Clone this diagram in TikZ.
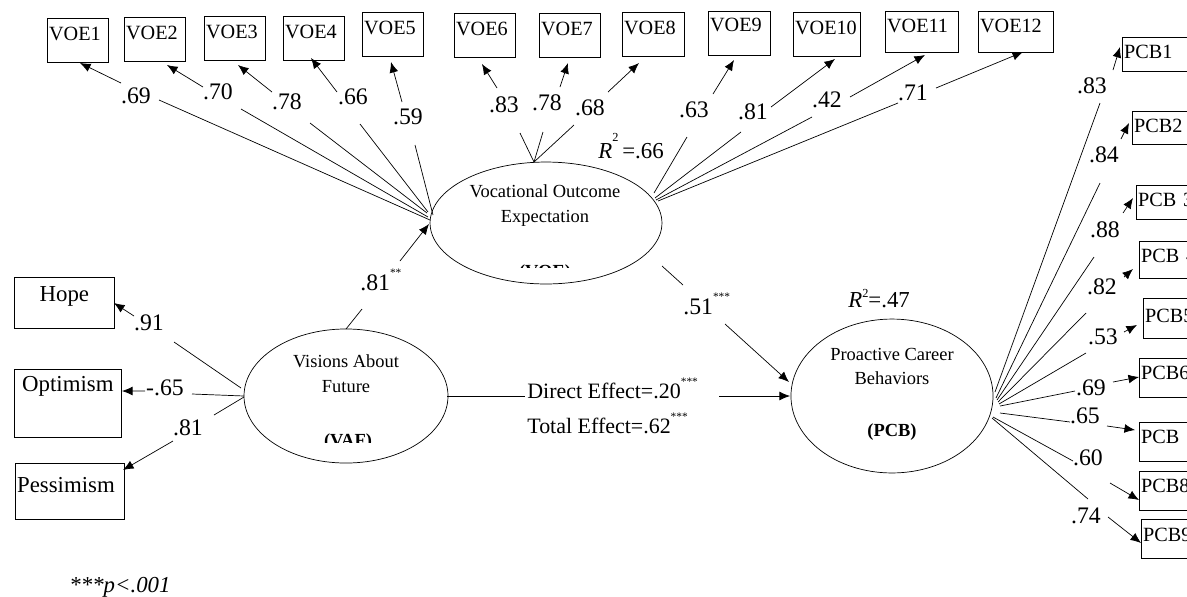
\documentclass[tikz,border=0pt]{standalone}
\usepackage{fontspec}
\setmainfont{Liberation Serif}
\usetikzlibrary{shapes,arrows.meta}
\pgfdeclarelayer{edgelayer}
\pgfdeclarelayer{nodelayer}
\pgfsetlayers{edgelayer,nodelayer,main}
\tikzset{line width=0.6pt}
\tikzstyle{none}=[inner sep=0pt]
\tikzstyle{obs}=[draw,anchor=north west,align=left,inner xsep=1pt,inner ysep=0pt,text width=33pt,text height=12.5pt,text depth=12.5pt,font=\fontsize{11.5}{13}\selectfont]
\tikzstyle{pcbbox}=[obs,text width=40pt,text height=12pt,text depth=10.2pt]
\tikzstyle{indbox}=[obs,align=center,font=\fontsize{13}{15}\selectfont]
\tikzstyle{latent}=[draw,ellipse,inner sep=0pt]
\tikzstyle{etxt}=[inner sep=0pt,anchor=base,font=\fontsize{10.5}{12}\selectfont]
\tikzstyle{coef}=[inner sep=0pt,font=\fontsize{13.5}{15}\selectfont]
\tikzstyle{arr}=[-{Latex[length=6pt,width=5pt]}]
\newcommand{\sigmark}[1]{\raisebox{0.55em}{\fontsize{6.5}{7}\selectfont #1}}

\begin{document}
\begin{tikzpicture}[x=0.02cm,y=-0.02cm]
	\useasboundingbox (0,0) rectangle (1187,596);
	\begin{pgfonlayer}{nodelayer}
		% indicators of VOE
		\node [style=obs] (voe1) at (47,18) {VOE1};
		\node [style=obs] (voe2) at (124,17) {VOE2};
		\node [style=obs] (voe3) at (204,16) {VOE3};
		\node [style=obs] (voe4) at (283,16) {VOE4};
		\node [style=obs] (voe5) at (362,12) {VOE5};
		\node [style=obs] (voe6) at (454,13) {VOE6};
		\node [style=obs] (voe7) at (539,13) {VOE7};
		\node [style=obs] (voe8) at (622,12) {VOE8};
		\node [style=obs, text height=11.4pt, text depth=13.6pt] (voe9) at (708,11) {VOE9};
		\node [style=obs, text width=36.1pt] (voe10) at (793,12) {VOE10};
		\node [style=obs, text width=39.5pt, text height=12pt, text depth=11.4pt] (voe11) at (885,11) {VOE11};
		\node [style=obs, text width=40.7pt, text height=12pt, text depth=11.4pt] (voe12) at (978,11) {VOE12};
		% indicators of PCB
		\node [style=pcbbox, text depth=7.4pt] (pcb1) at (1122,37) {PCB1};
		\node [style=pcbbox, text depth=6.8pt] (pcb2) at (1132,111) {PCB2};
		\node [style=pcbbox, text depth=7.4pt] (pcb3) at (1136,185) {PCB 3};
		\node [style=pcbbox, text depth=9.1pt] (pcb4) at (1139,241) {PCB 4};
		\node [style=pcbbox, text height=13.7pt, text depth=9.1pt] (pcb5) at (1143,298) {PCB5};
		\node [style=pcbbox] (pcb6) at (1139,358) {PCB6};
		\node [style=pcbbox] (pcb7) at (1139,422) {PCB 7};
		\node [style=pcbbox] (pcb8) at (1139,471) {PCB8};
		\node [style=pcbbox, text height=12.5pt, text depth=9.7pt] (pcb9) at (1141,519) {PCB9};
		% indicators of VAF
		\node [style=indbox, text width=54.9pt, text height=13.7pt, text depth=15.4pt] (hope) at (14,277) {Hope};
		\node [style=indbox, text width=58.9pt, text height=12.5pt, text depth=26.2pt] (optim) at (14,369) {Optimism};
		\node [style=indbox, align=left, text width=60pt, text height=16.5pt, text depth=15.4pt] (pessim) at (15,463) {Pessimism};
		% latent variables
		\node [style=latent, minimum width=132pt, minimum height=69.4pt] (voe) at (546,223) {};
		\node [style=latent, minimum width=116.1pt, minimum height=76.3pt] (vaf) at (346,396) {};
		\node [style=latent, minimum width=115pt, minimum height=87.6pt] (pcb) at (892,396) {};
		\node [style=etxt] (voet1) at (545,197) {Vocational Outcome};
		\node [style=etxt] (voet2) at (545,222) {Expectation};
		\begin{scope}
			\clip (480,250) rectangle (610,267);
			\node [style=etxt] (voet3) at (545,277) {\textbf{(VOE)}};
		\end{scope}
		\node [style=etxt] (vaft1) at (346,367) {Visions About};
		\node [style=etxt] (vaft2) at (346,392) {Future};
		\begin{scope}
			\clip (290,425) rectangle (400,442);
			\node [style=etxt] (vaft3) at (348,446) {\textbf{(VAF)}};
		\end{scope}
		\node [style=etxt] (pcbt1) at (892,360) {Proactive Career};
		\node [style=etxt] (pcbt2) at (892,384) {Behaviors};
		\node [style=etxt] (pcbt3) at (892,436) {\textbf{(PCB)}};
		% coefficients
		\node [style=coef] (lv1) at (136,96) {.69};
		\node [style=coef] (lv2) at (218,92) {.70};
		\node [style=coef] (lv3) at (287,102) {.78};
		\node [style=coef] (lv4) at (353,97) {.66};
		\node [style=coef] (lv5) at (408,117) {.59};
		\node [style=coef] (lv6) at (504,105) {.83};
		\node [style=coef] (lv7) at (547,103) {.78};
		\node [style=coef] (lv8) at (590,108) {.68};
		\node [style=coef] (lv9) at (694,110) {.63};
		\node [style=coef] (lv10) at (753,112) {.81};
		\node [style=coef] (lv11) at (827,100) {.42};
		\node [style=coef] (lv12) at (913,93) {.71};
		\node [style=coef] (lh) at (149,323) {.91};
		\node [style=coef] (lo) at (165,388) {-.65};
		\node [style=coef] (lq) at (188,428) {.81};
		\node [style=coef] (lp1) at (1092,86) {.83};
		\node [style=coef] (lp2) at (1104,155) {.84};
		\node [style=coef] (lp3) at (1105,230) {.88};
		\node [style=coef] (lp4) at (1102,287) {.82};
		\node [style=coef] (lp5) at (1103,337) {.53};
		\node [style=coef] (lp6) at (1091,388) {.69};
		\node [style=coef] (lp7) at (1085,416) {.65};
		\node [style=coef] (lp8) at (1088,458) {.60};
		\node [style=coef] (lp9) at (1086,516) {.74};
		\node [style=coef, anchor=base west] (la) at (360,290) {.81\sigmark{**}};
		\node [style=coef, anchor=base west] (lb) at (683,314) {.51\sigmark{***}};
		\node [style=none, anchor=base west, font=\fontsize{12.5}{14}\selectfont] (direct) at (527,398) {Direct Effect=.20\sigmark{***}};
		\node [style=none, anchor=base west, font=\fontsize{12.5}{14}\selectfont] (total) at (527,433) {Total Effect=.62\sigmark{***}};
		\node [style=none, anchor=base west, font=\fontsize{13}{15}\selectfont] (r2voe) at (598,158) {\textit{R}\raisebox{9.5pt}{\fontsize{7}{8}\selectfont 2}\,=.66};
		\node [style=none, anchor=base west, font=\fontsize{13}{15}\selectfont] (r2pcb) at (848,307) {\textit{R}\raisebox{5.5pt}{\fontsize{7}{8}\selectfont 2}=.47};
		\node [style=none, anchor=base, font=\itshape\fontsize{13}{15}\selectfont] (note) at (120,592) {***p<.001};
		% connector ends
		\node [style=none] (v1s) at (430,220) {}; \node [style=none] (v1m) at (159,100) {}; \node [style=none] (v1n) at (121,83) {}; \node [style=none] (v1t) at (80,63) {};
		\node [style=none] (v2s) at (428,217) {}; \node [style=none] (v2m) at (241,109) {}; \node [style=none] (v2n) at (203,87) {}; \node [style=none] (v2t) at (167,65) {};
		\node [style=none] (v3s) at (427,213) {}; \node [style=none] (v3m) at (310,123) {}; \node [style=none] (v3n) at (272,92) {}; \node [style=none] (v3t) at (238,65) {};
		\node [style=none] (v4s) at (428,212) {}; \node [style=none] (v4m) at (360,124) {}; \node [style=none] (v4n) at (337,92) {}; \node [style=none] (v4t) at (311,58) {};
		\node [style=none] (v5s) at (433,215) {}; \node [style=none] (v5m) at (415,145) {}; \node [style=none] (v5n) at (402,102) {}; \node [style=none] (v5t) at (391,62) {};
		\node [style=none] (v6s) at (534,162) {}; \node [style=none] (v6m) at (520,133) {}; \node [style=none] (v6n) at (497,88) {}; \node [style=none] (v6t) at (482,64) {};
		\node [style=none] (v7s) at (534,162) {}; \node [style=none] (v7m) at (543,132) {}; \node [style=none] (v7n) at (560,87) {}; \node [style=none] (v7t) at (568,63) {};
		\node [style=none] (v8s) at (534,162) {}; \node [style=none] (v8m) at (574,125) {}; \node [style=none] (v8n) at (608,92) {}; \node [style=none] (v8t) at (639,63) {};
		\node [style=none] (v9s) at (654,193) {}; \node [style=none] (v9m) at (687,137) {}; \node [style=none] (v9n) at (713,94) {}; \node [style=none] (v9t) at (734,60) {};
		\node [style=none] (v10s) at (655,198) {}; \node [style=none] (v10m) at (741,132) {}; \node [style=none] (v10n) at (771,107) {}; \node [style=none] (v10t) at (835,59) {};
		\node [style=none] (v11s) at (656,200) {}; \node [style=none] (v11m) at (812,117) {}; \node [style=none] (v11n) at (850,97) {}; \node [style=none] (v11t) at (925,55) {};
		\node [style=none] (v12s) at (658,201) {}; \node [style=none] (v12m) at (898,103) {}; \node [style=none] (v12n) at (936,88) {}; \node [style=none] (v12t) at (1023,52) {};
		\node [style=none] (as) at (346,329) {}; \node [style=none] (am) at (362,309) {}; \node [style=none] (an) at (400,261) {}; \node [style=none] (at) at (429,224) {};
		\node [style=none] (hs) at (241,388) {}; \node [style=none] (hm) at (174,342) {}; \node [style=none] (hn) at (134,316) {}; \node [style=none] (ht) at (114,303) {};
		\node [style=none] (os) at (244,396) {}; \node [style=none] (om) at (192,394) {}; \node [style=none] (on) at (145,391) {}; \node [style=none] (ot) at (122,391) {};
		\node [style=none] (qs) at (244,397) {}; \node [style=none] (qm) at (214,415) {}; \node [style=none] (qn) at (173,441) {}; \node [style=none] (qt) at (123,470) {};
		\node [style=none] (ds) at (447,396) {}; \node [style=none] (dm) at (525,396) {}; \node [style=none] (dn) at (719,396) {}; \node [style=none] (dt) at (790,396) {};
		\node [style=none] (bs) at (662,266) {}; \node [style=none] (bm) at (683,285) {}; \node [style=none] (bn) at (725,324) {}; \node [style=none] (bt) at (789,382) {};
		\node [style=none] (p1s) at (995,392) {}; \node [style=none] (p1m) at (1100,103) {}; \node [style=none] (p1n) at (1113,70) {}; \node [style=none] (p1t) at (1120,47) {};
		\node [style=none] (p2s) at (996,398) {}; \node [style=none] (p2m) at (1100,183) {}; \node [style=none] (p2n) at (1121,139) {}; \node [style=none] (p2t) at (1129,123) {};
		\node [style=none] (p3s) at (997,400) {}; \node [style=none] (p3m) at (1094,257) {}; \node [style=none] (p3n) at (1123,213) {}; \node [style=none] (p3t) at (1133,198) {};
		\node [style=none] (p4s) at (998,402) {}; \node [style=none] (p4m) at (1086,313) {}; \node [style=none] (p4n) at (1124,277) {}; \node [style=none] (p4t) at (1133,269) {};
		\node [style=none] (p5s) at (999,404) {}; \node [style=none] (p5m) at (1086,353) {}; \node [style=none] (p5n) at (1124,332) {}; \node [style=none] (p5t) at (1137,325) {};
		\node [style=none] (p6s) at (1000,406) {}; \node [style=none] (p6m) at (1075,391) {}; \node [style=none] (p6n) at (1113,382) {}; \node [style=none] (p6t) at (1139,377) {};
		\node [style=none] (p7s) at (1000,413) {}; \node [style=none] (p7m) at (1070,422) {}; \node [style=none] (p7n) at (1107,426) {}; \node [style=none] (p7t) at (1135,430) {};
		\node [style=none] (p8s) at (993,417) {}; \node [style=none] (p8m) at (1073,461) {}; \node [style=none] (p8n) at (1110,483) {}; \node [style=none] (p8t) at (1139,500) {};
		\node [style=none] (p9s) at (992,418) {}; \node [style=none] (p9m) at (1088,499) {}; \node [style=none] (p9n) at (1108,517) {}; \node [style=none] (p9t) at (1141,543) {};
	\end{pgfonlayer}
	\begin{pgfonlayer}{edgelayer}
		\draw [style=arr] (v1s.center) to (v1m.center) (v1n.center) to (v1t.center);
		\draw [style=arr] (v2s.center) to (v2m.center) (v2n.center) to (v2t.center);
		\draw [style=arr] (v3s.center) to (v3m.center) (v3n.center) to (v3t.center);
		\draw [style=arr] (v4s.center) to (v4m.center) (v4n.center) to (v4t.center);
		\draw [style=arr] (v5s.center) to (v5m.center) (v5n.center) to (v5t.center);
		\draw [style=arr] (v6s.center) to (v6m.center) (v6n.center) to (v6t.center);
		\draw [style=arr] (v7s.center) to (v7m.center) (v7n.center) to (v7t.center);
		\draw [style=arr] (v8s.center) to (v8m.center) (v8n.center) to (v8t.center);
		\draw [style=arr] (v9s.center) to (v9m.center) (v9n.center) to (v9t.center);
		\draw [style=arr] (v10s.center) to (v10m.center) (v10n.center) to (v10t.center);
		\draw [style=arr] (v11s.center) to (v11m.center) (v11n.center) to (v11t.center);
		\draw [style=arr] (v12s.center) to (v12m.center) (v12n.center) to (v12t.center);
		\draw [style=arr] (as.center) to (am.center) (an.center) to (at.center);
		\draw [style=arr] (hs.center) to (hm.center) (hn.center) to (ht.center);
		\draw [style=arr] (os.center) to (om.center) (on.center) to (ot.center);
		\draw [style=arr] (qs.center) to (qm.center) (qn.center) to (qt.center);
		\draw [style=arr] (ds.center) to (dm.center) (dn.center) to (dt.center);
		\draw [style=arr] (bs.center) to (bm.center) (bn.center) to (bt.center);
		\draw [style=arr] (p1s.center) to (p1m.center) (p1n.center) to (p1t.center);
		\draw [style=arr] (p2s.center) to (p2m.center) (p2n.center) to (p2t.center);
		\draw [style=arr] (p3s.center) to (p3m.center) (p3n.center) to (p3t.center);
		\draw [style=arr] (p4s.center) to (p4m.center) (p4n.center) to (p4t.center);
		\draw [style=arr] (p5s.center) to (p5m.center) (p5n.center) to (p5t.center);
		\draw [style=arr] (p6s.center) to (p6m.center) (p6n.center) to (p6t.center);
		\draw [style=arr] (p7s.center) to (p7m.center) (p7n.center) to (p7t.center);
		\draw [style=arr] (p8s.center) to (p8m.center) (p8n.center) to (p8t.center);
		\draw [style=arr] (p9s.center) to (p9m.center) (p9n.center) to (p9t.center);
	\end{pgfonlayer}
\end{tikzpicture}
\end{document}
